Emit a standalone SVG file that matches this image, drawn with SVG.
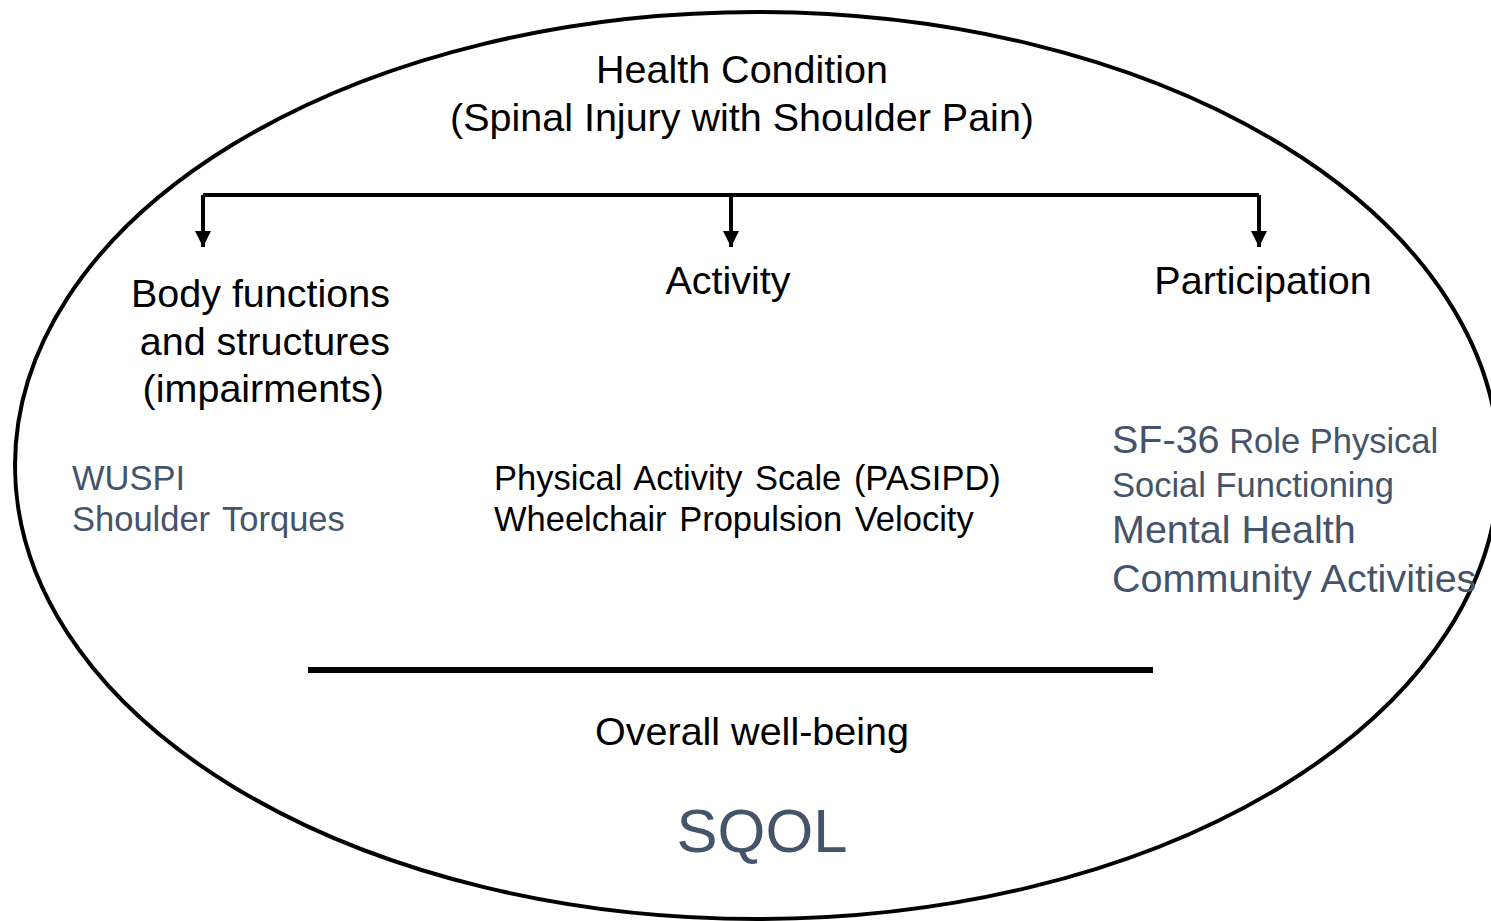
<svg xmlns="http://www.w3.org/2000/svg" width="1491" height="921" viewBox="0 0 1491 921">
  <defs>
    <marker id="arrow" viewBox="0 0 10 10" refX="10" refY="5" markerWidth="4" markerHeight="4" markerUnits="strokeWidth" orient="auto">
      <path d="M0,0 L10,5 L0,10 Z" fill="#000"/>
    </marker>
  </defs>
  <style>
    text { font-family: "Liberation Sans", Arial, sans-serif; }
    .blk { fill: #000; font-size: 39.5px; }
    .mid { fill: #000; font-size: 34.5px; }
    .slate { fill: #44546A; }
    .wire { stroke: #000; stroke-width: 4; fill: none; }
  </style>
  <rect width="1491" height="921" fill="#fff"/>
  <g id="frame">
    <ellipse cx="757" cy="465.5" rx="742" ry="453.5" fill="none" stroke="#000" stroke-width="4"/>
  </g>
  <g id="health-condition">
    <text class="blk" x="742" y="83" text-anchor="middle">Health Condition</text>
    <text class="blk" x="742" y="131" text-anchor="middle">(Spinal Injury with Shoulder Pain)</text>
  </g>
  <g id="connectors">
    <path class="wire" d="M203,195 H1259"/>
    <path class="wire" d="M203,195 V247" marker-end="url(#arrow)"/>
    <path class="wire" d="M731,195 V247" marker-end="url(#arrow)"/>
    <path class="wire" d="M1259,195 V247" marker-end="url(#arrow)"/>
    <path d="M308,670 H1153" stroke="#000" stroke-width="6"/>
  </g>
  <g id="body-functions">
    <text class="blk" x="390" y="307" text-anchor="end">Body functions</text>
    <text class="blk" x="390" y="355" text-anchor="end">and structures</text>
    <text class="blk" x="384" y="402" text-anchor="end">(impairments)</text>
    <text class="mid slate" x="72" y="490">WUSPI</text>
    <text class="mid slate" x="72" y="531" word-spacing="3">Shoulder Torques</text>
  </g>
  <g id="activity">
    <text class="blk" x="728" y="294" text-anchor="middle">Activity</text>
    <text class="mid" x="494" y="490" word-spacing="3">Physical Activity Scale (PASIPD)</text>
    <text class="mid" x="494" y="531" word-spacing="3">Wheelchair Propulsion Velocity</text>
  </g>
  <g id="participation">
    <text class="blk" x="1263" y="294" text-anchor="middle">Participation</text>
    <text class="slate" x="1112" y="453"><tspan font-size="39.5px">SF-36</tspan><tspan font-size="34.5px"> Role Physical</tspan></text>
    <text class="mid slate" x="1112" y="497">Social Functioning</text>
    <text class="blk slate" x="1112" y="543">Mental Health</text>
    <text class="blk slate" x="1112" y="592">Community Activities</text>
  </g>
  <g id="well-being">
    <text class="blk" x="752" y="745" text-anchor="middle">Overall well-being</text>
    <text class="slate" x="762" y="852" font-size="61.5" text-anchor="middle">SQOL</text>
  </g>
</svg>
